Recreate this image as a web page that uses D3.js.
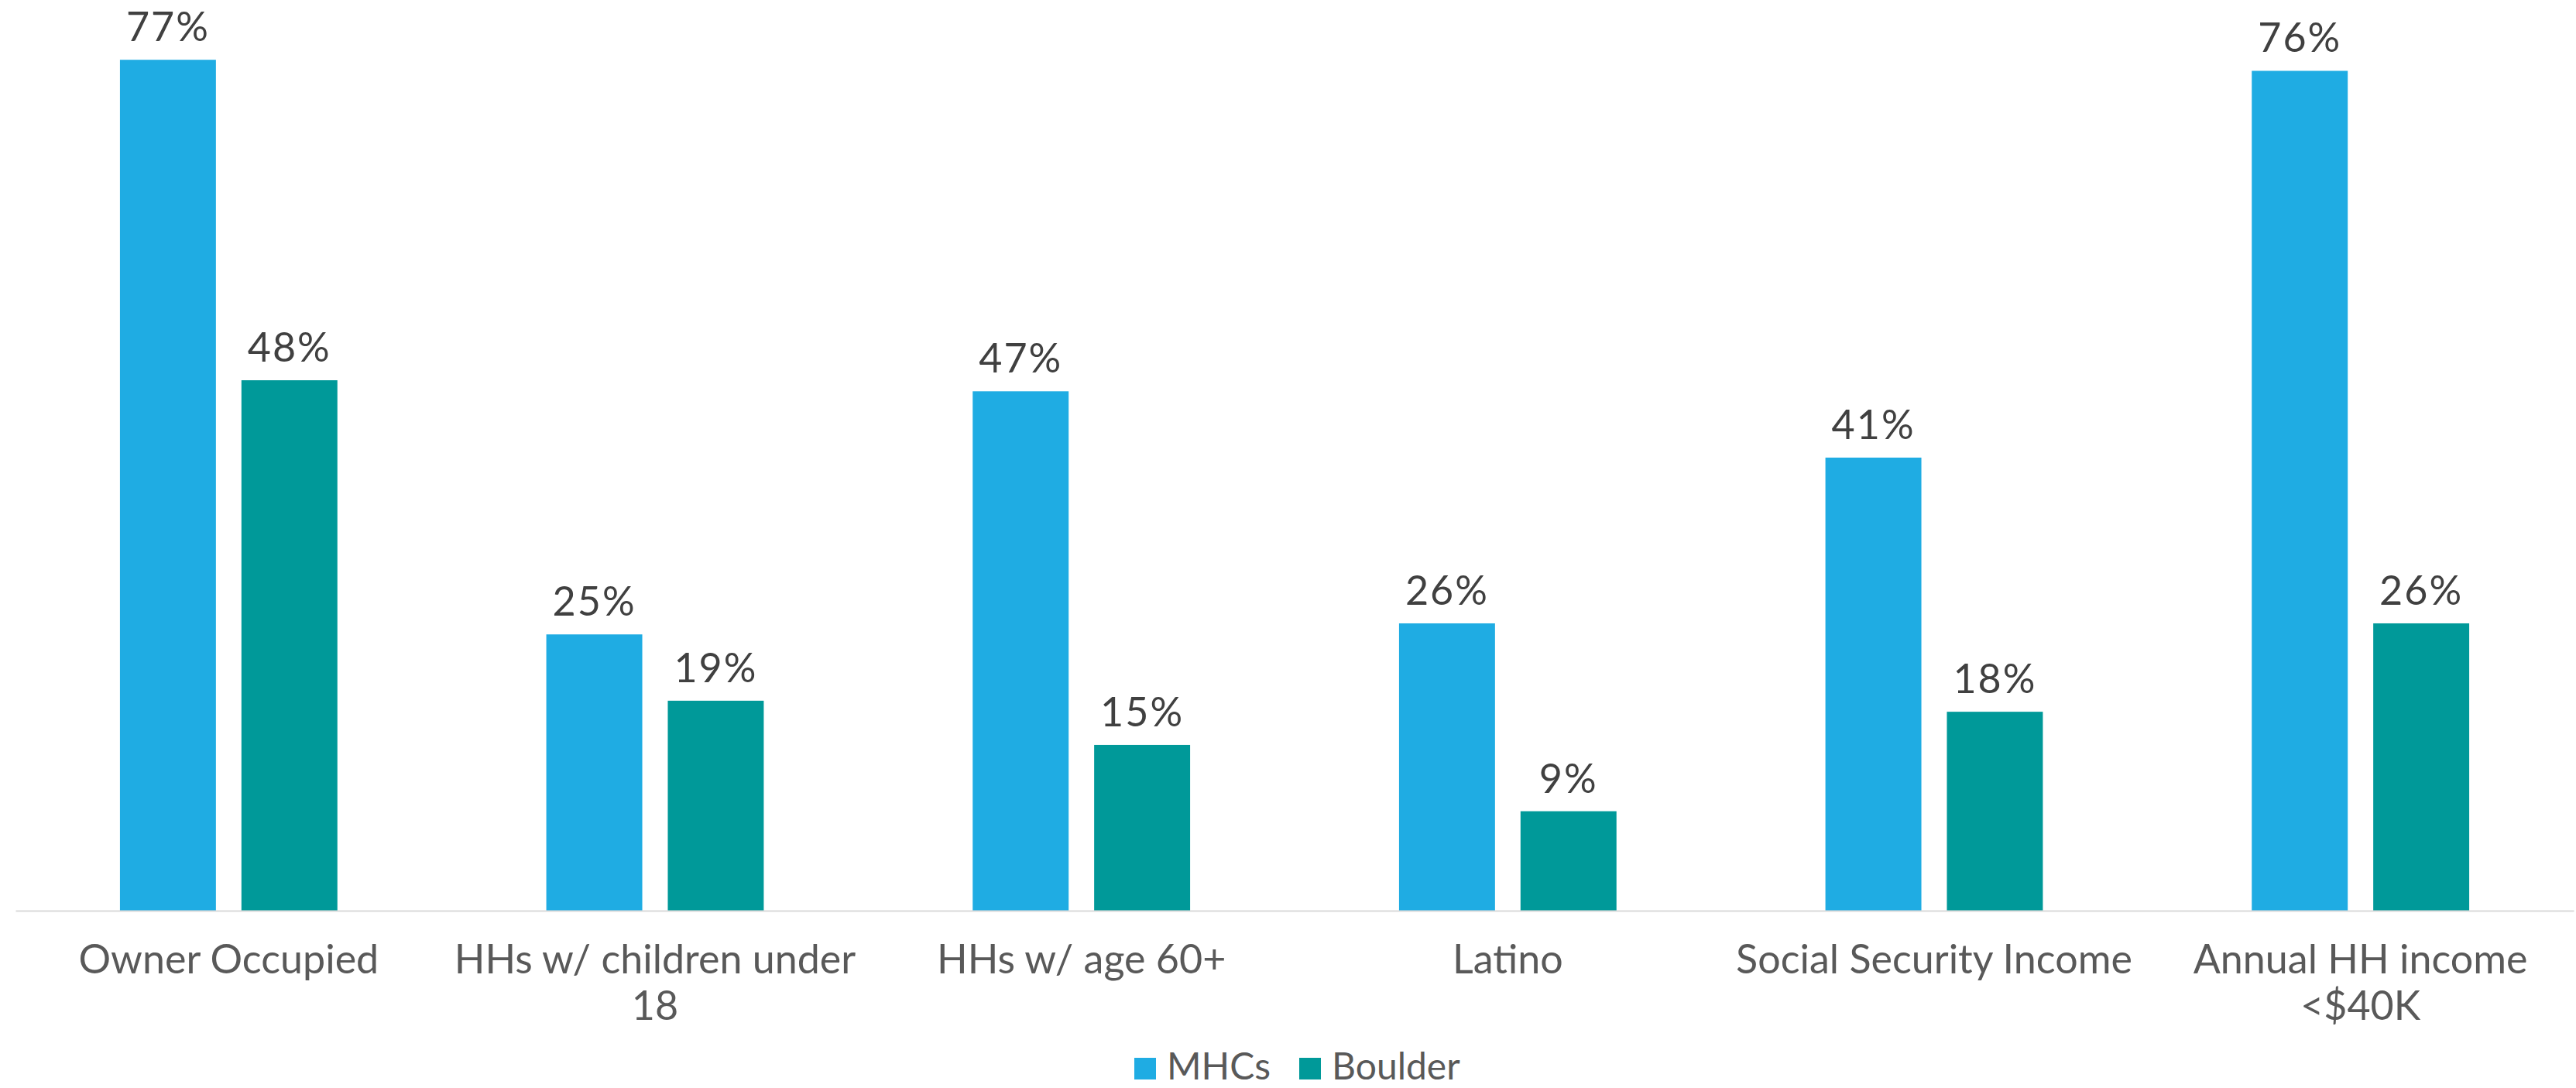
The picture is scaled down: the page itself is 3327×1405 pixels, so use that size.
<!DOCTYPE html>
<html lang="en">
<head>
    <meta charset="UTF-8">
    <title>MHCs vs Boulder</title>
    <script src="https://cdn.jsdelivr.net/npm/d3@7"></script>
    <style>
        body { margin: 0; background: #fff; }
    </style>
</head>
<body>
    <svg></svg>

<script>
    // chart data
    var categories = ["Owner Occupied", "HHs w/ children under 18", "HHs w/ age 60+", "Latino", "Social Security Income", "Annual HH income <$40K"]
    var seriesNames = ["MHCs", "Boulder"]
    var mhcs = [77, 25, 47, 26, 41, 76]
    var boulder = [48, 19, 15, 9, 18, 26]
    var colors = ["#1face3", "#009999"]

    var width = 3327, height = 1405
    var baseY = 1176

    var svg = d3.select("svg")
                .attr("width", width)
                .attr("height", height)

    var x0 = d3.scaleBand()
                .domain(categories)
                .range([20, 3324])
                .padding(0)

    var x1 = d3.scaleBand()
                .domain(seriesNames)
                .range([0, x0.bandwidth()])
                .paddingInner(0.21)
                .paddingOuter(0.86)

    var y = d3.scaleLinear()
                .domain([0, 80])
                .range([baseY, baseY - 80 * 14.27])

    var rows = categories.map((c, i) => ({cat: c, vals: [mhcs[i], boulder[i]]}))

    var groups = svg.selectAll("g.cat")
        .data(rows)
        .join("g")
        .attr("class", "cat")
        .attr("transform", d => "translate(" + x0(d.cat) + ",0)")

    groups.selectAll("rect")
        .data(d => d.vals.map((v, j) => ({s: seriesNames[j], v: v, j: j})))
        .join("rect")
        .attr("x", d => x1(d.s))
        .attr("y", d => y(d.v))
        .attr("width", x1.bandwidth())
        .attr("height", d => baseY - y(d.v))
        .attr("fill", d => colors[d.j])

    groups.selectAll("text.val")
        .data(d => d.vals.map((v, j) => ({s: seriesNames[j], v: v})))
        .join("text")
        .attr("class", "val")
        .attr("x", d => x1(d.s) + x1.bandwidth() / 2)
        .attr("y", d => y(d.v) - 24)
        .attr("text-anchor", "middle")
        .attr("font-family", "Lato, 'DejaVu Sans', sans-serif")
        .attr("font-size", 52)
        .attr("letter-spacing", 2)
        .attr("fill", "#404040")
        .text(d => d.v + "%")

    // x axis (just the baseline, no ticks)
    var xAxis = svg.append("g")
        .attr("transform", "translate(0," + baseY + ")")
        .call(d3.axisBottom(x0).tickSize(0).tickPadding(0))

    xAxis.select(".domain")
        .attr("stroke", "#d9d9d9")
        .attr("stroke-width", 2)

    xAxis.selectAll(".tick text").remove()

    // category labels with wrapping
    var labelG = svg.append("g")
    categories.forEach(function (c) {
        var cx = x0(c) + x0.bandwidth() / 2
        var t = labelG.append("text")
            .attr("x", cx)
            .attr("y", 1257)
            .attr("text-anchor", "middle")
            .attr("font-family", "Lato, 'Open Sans', sans-serif")
            .attr("font-size", 52)
            .attr("fill", "#595959")
        var words = c.split(" ")
        var line = []
        var tspan = t.append("tspan").attr("x", cx).attr("dy", 0)
        words.forEach(function (w) {
            line.push(w)
            tspan.text(line.join(" "))
            if (tspan.node().getComputedTextLength() > x0.bandwidth() - 20 && line.length > 1) {
                line.pop()
                tspan.text(line.join(" "))
                line = [w]
                tspan = t.append("tspan")
                    .attr("x", cx)
                    .attr("dy", 60)
                    .text(w)
            }
        })
    })

    // legend
    var legend = svg.append("g").attr("transform", "translate(1465,1366)")
    var legX = [0, 213]
    seriesNames.forEach(function (s, i) {
        legend.append("rect")
            .attr("x", legX[i])
            .attr("y", 0)
            .attr("width", 28)
            .attr("height", 28)
            .attr("fill", colors[i])
        legend.append("text")
            .attr("x", legX[i] + 42)
            .attr("y", 28)
            .attr("font-family", "Lato, 'Open Sans', sans-serif")
            .attr("font-size", 48)
            .attr("fill", "#595959")
            .text(s)
    })
</script>
</body>
</html>
